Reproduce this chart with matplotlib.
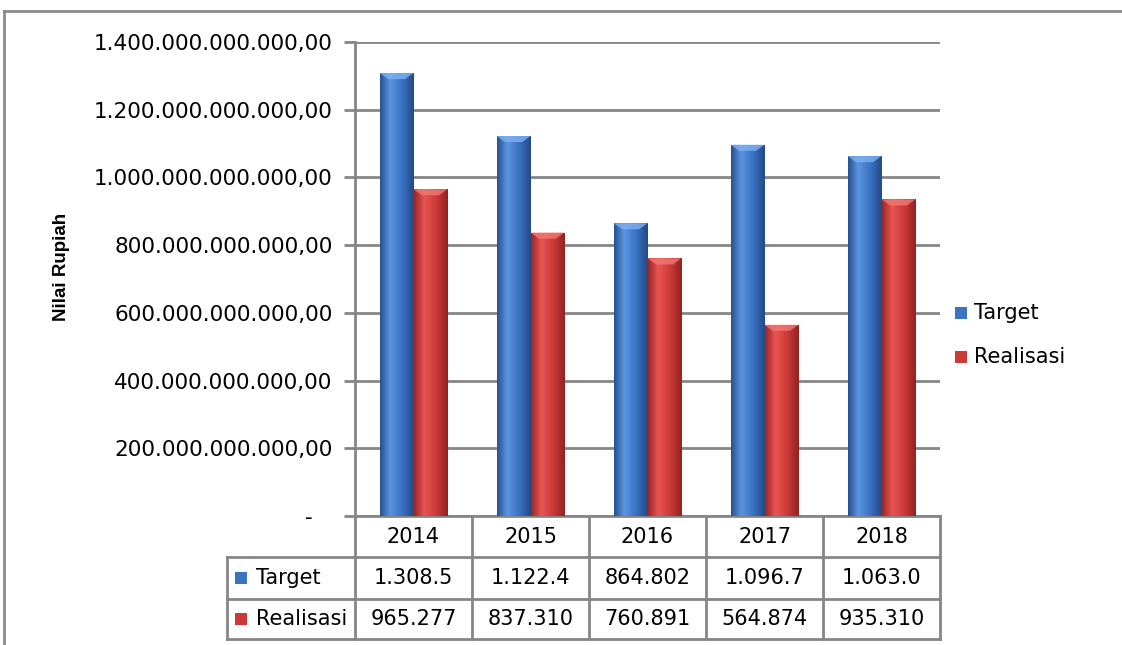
import matplotlib
matplotlib.use("Agg")
import matplotlib.pyplot as plt
import numpy as np
from matplotlib.lines import Line2D
from matplotlib.patches import Rectangle, Polygon
from matplotlib.colors import LinearSegmentedColormap
from matplotlib import transforms

# data (miliar rupiah)
years = ['2014', '2015', '2016', '2017', '2018']
target = [1308.5, 1122.4, 864.802, 1096.7, 1063.0]
realisasi = [965.277, 837.310, 760.891, 564.874, 935.310]
target_text = ['1.308.5', '1.122.4', '864.802', '1.096.7', '1.063.0']
realisasi_text = ['965.277', '837.310', '760.891', '564.874', '935.310']
series_names = ['Target', 'Realisasi']
y_ticks = [0, 200, 400, 600, 800, 1000, 1200, 1400]

blue_grad = [(0, '#27518f'), (0.3, '#5b95e0'), (0.65, '#3a72c4'), (1, '#234a86')]
red_grad = [(0, '#9a2626'), (0.3, '#e85552'), (0.65, '#cc3a38'), (1, '#932222')]
grid_col = '#868686'

W, H = 1122, 645
fig = plt.figure(figsize=(W / 100, H / 100), dpi=100)
plt.rcParams['font.family'] = 'DejaVu Sans'


def fx(px):
    return px / W


def fy(py):
    return 1 - py / H


ax = fig.add_axes([fx(355), fy(516), fx(940) - fx(355), fy(42) - fy(516)])

x = np.arange(len(years))
bw = 0.29
bars_t = ax.bar(x - bw / 2, target, bw, color='#3a72c4', zorder=3, linewidth=0)
bars_r = ax.bar(x + bw / 2, realisasi, bw, color='#cc3a38', zorder=3, linewidth=0)


def shade(bars, stops, top_col):
    cmap = LinearSegmentedColormap.from_list('g', stops)
    grad = np.linspace(0, 1, 64).reshape(1, -1)
    for b in bars:
        x0, y0 = b.get_x(), b.get_y()
        w, h = b.get_width(), b.get_height()
        im = ax.imshow(grad, cmap=cmap, extent=(x0, x0 + w, y0, y0 + h),
                       aspect='auto', zorder=4, interpolation='bicubic')
        im.set_clip_path(b)
        # small bevel highlight on the top of the bar
        top = y0 + h
        ax.add_patch(Polygon([(x0, top), (x0 + w, top), (x0 + w * 0.75, top - 18),
                              (x0 + w * 0.25, top - 18)], closed=True,
                             facecolor=top_col, edgecolor='none', alpha=0.8, zorder=5))


shade(bars_t, blue_grad, '#7fb2f2')
shade(bars_r, red_grad, '#f07a76')

ax.set_xlim(-0.5, len(years) - 0.5)
ax.set_ylim(0, 1400)


def rupiah(v):
    if v == 0:
        return '-   '
    s = f"{v * 1e9:,.2f}"
    return s.replace(',', 'X').replace('.', ',').replace('X', '.')


ax.set_yticks(y_ticks)
ax.set_yticklabels([rupiah(v) for v in y_ticks], fontsize=15.5)
ax.set_xticks([])
ax.tick_params(axis='y', length=8, width=2, color=grid_col, pad=8)
ax.yaxis.grid(True, color=grid_col, linewidth=2)
ax.set_axisbelow(True)
for s in ['top', 'right']:
    ax.spines[s].set_visible(False)
for s in ['left', 'bottom']:
    ax.spines[s].set_color(grid_col)
    ax.spines[s].set_linewidth(2)

fig.text(fx(62), fy(267), 'Nilai Rupiah', rotation=90, fontsize=13.5,
         fontweight='bold', family='Liberation Sans', ha='center', va='center')

# data table below the axis
trans = transforms.blended_transform_factory(ax.transData, fig.transFigure)
rows_y = [516, 557, 599, 639]
for yy in rows_y[1:]:
    fig.add_artist(Line2D([fx(227), fx(940)], [fy(yy), fy(yy)], color=grid_col, lw=2))
fig.add_artist(Line2D([fx(227), fx(227)], [fy(557), fy(639)], color=grid_col, lw=2))
for i in range(len(years) + 1):
    ax.add_artist(Line2D([i - 0.5, i - 0.5], [fy(516), fy(639)], color=grid_col, lw=2,
                         transform=trans, clip_on=False))

for i, yr in enumerate(years):
    ax.text(i, fy(537), yr, transform=trans, ha='center', va='center', fontsize=15)
    ax.text(i, fy(578), target_text[i], transform=trans, ha='center', va='center', fontsize=15)
    ax.text(i, fy(619), realisasi_text[i], transform=trans, ha='center', va='center', fontsize=15)

for yc, name, col in [(578, series_names[0], '#3a72c4'), (619, series_names[1], '#cc3a38')]:
    fig.add_artist(Rectangle((fx(235), fy(yc + 6)), fx(12), fy(yc - 6) - fy(yc + 6),
                             facecolor=col, edgecolor='none'))
    fig.text(fx(256), fy(yc), name, ha='left', va='center', fontsize=15)

# legend
for yc, name, col in [(313, series_names[0], '#3a72c4'), (357, series_names[1], '#cc3a38')]:
    fig.add_artist(Rectangle((fx(955), fy(yc + 6)), fx(12), fy(yc - 6) - fy(yc + 6),
                             facecolor=col, edgecolor='none'))
    fig.text(fx(974), fy(yc), name, ha='left', va='center', fontsize=15)

# outer frame
fig.add_artist(Line2D([fx(4), 1], [fy(11), fy(11)], color='#8c8c8c', lw=2))
fig.add_artist(Line2D([fx(4), fx(4)], [fy(11), 0], color='#8c8c8c', lw=2))

fig.savefig('out.png', dpi=100)
